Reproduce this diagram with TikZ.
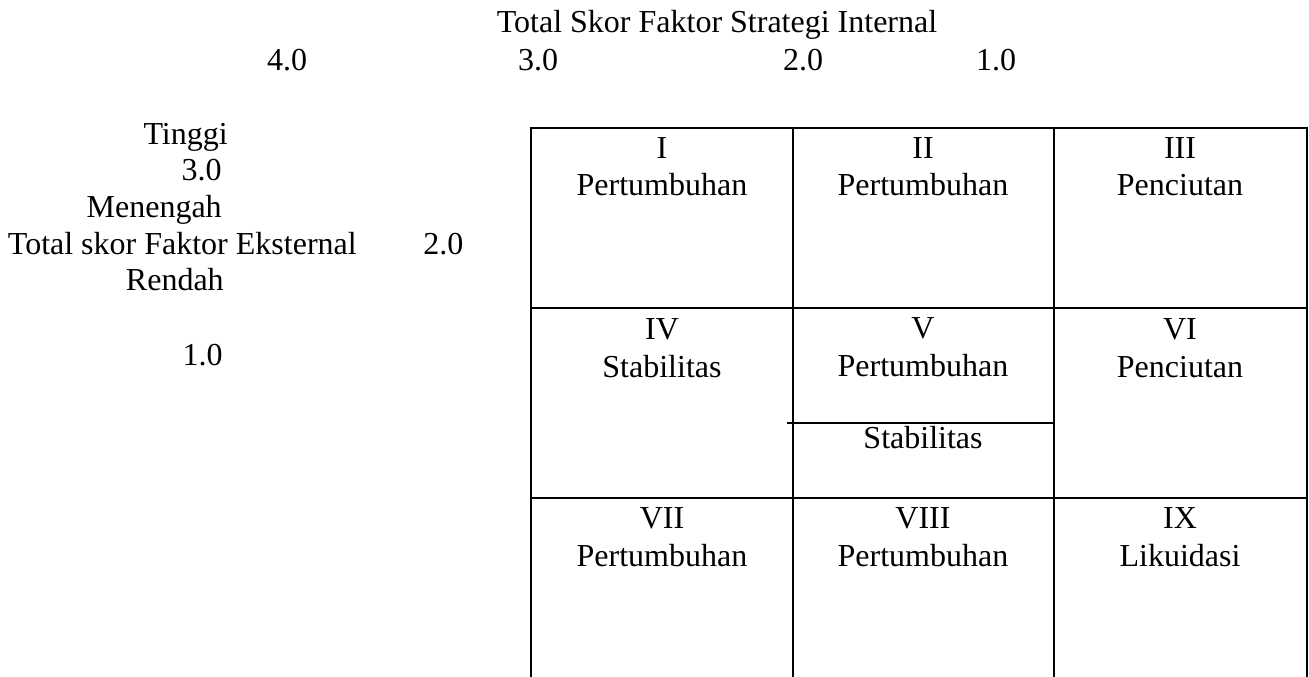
\documentclass[tikz,border=0pt]{standalone}
\usepackage{fontspec}
\setmainfont{Liberation Serif}

\tikzstyle{txt} = [anchor=base, inner sep=0pt, font=\fontsize{24}{28}\selectfont]
\tikzstyle{txtr} = [txt, anchor=base east]
\tikzstyle{txtl} = [txt, anchor=base west]
\tikzstyle{matline} = [line width=2.2pt]
\tikzstyle{splitline} = [line width=1.5pt]

\begin{document}
\begin{tikzpicture}[x=0.75pt, y=-0.75pt]
  \useasboundingbox (0,0) rectangle (1309,677);

  % internal axis
  \node (ifas) [txt] at (717,33) {Total Skor Faktor Strategi Internal};
  \node (ifas4) [txt] at (287,71) {4.0};
  \node (ifas3) [txt] at (538,71) {3.0};
  \node (ifas2) [txt] at (803,71) {2.0};
  \node (ifas1) [txt] at (996,71) {1.0};

  % external axis
  \node (tinggi) [txtr] at (228,145) {Tinggi};
  \node (efas3) [txtr] at (222,181) {3.0};
  \node (menengah) [txtr] at (222,218) {Menengah};
  \node (efas) [txtr] at (357,254) {Total skor Faktor Eksternal};
  \node (efas2) [txtl] at (423,254) {2.0};
  \node (rendah) [txtr] at (224,291) {Rendah};
  \node (efas1) [txtr] at (223,365) {1.0};

  % matrix
  \draw [matline] (531,677) |- (1307,128) -- (1307,677);
  \draw [matline] (793,128) -- (793,677);
  \draw [matline] (1054,128) -- (1054,677);
  \draw [matline] (531,308) -- (1307,308);
  \draw [matline] (531,498) -- (1307,498);
  \draw [splitline] (787,423) -- (1053,423);

  \node (c1) [txt] at (662,159) {I};
  \node (c1s) [txt] at (662,196) {Pertumbuhan};
  \node (c2) [txt] at (923,159) {II};
  \node (c2s) [txt] at (923,196) {Pertumbuhan};
  \node (c3) [txt] at (1180,159) {III};
  \node (c3s) [txt] at (1180,196) {Penciutan};

  \node (c4) [txt] at (662,339) {IV};
  \node (c4s) [txt] at (662,377) {Stabilitas};
  \node (c5) [txt] at (923,338) {V};
  \node (c5s) [txt] at (923,376) {Pertumbuhan};
  \node (c5t) [txt] at (923,448) {Stabilitas};
  \node (c6) [txt] at (1180,339) {VI};
  \node (c6s) [txt] at (1180,377) {Penciutan};

  \node (c7) [txt] at (662,528) {VII};
  \node (c7s) [txt] at (662,566) {Pertumbuhan};
  \node (c8) [txt] at (923,528) {VIII};
  \node (c8s) [txt] at (923,566) {Pertumbuhan};
  \node (c9) [txt] at (1180,528) {IX};
  \node (c9s) [txt] at (1180,566) {Likuidasi};
\end{tikzpicture}
\end{document}
